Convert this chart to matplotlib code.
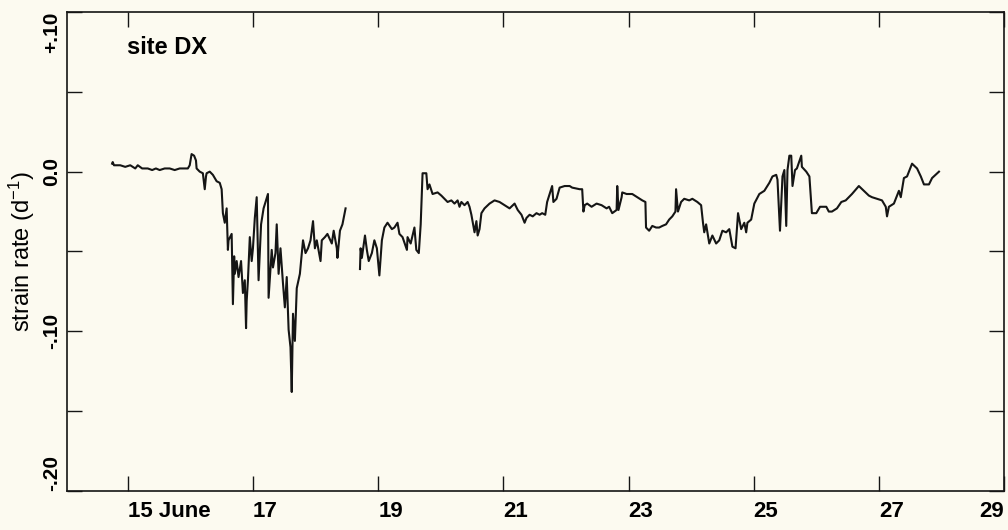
import matplotlib
matplotlib.use('Agg')
import matplotlib.pyplot as plt
import numpy as np

plt.rcParams['font.family'] = ['Liberation Sans', 'DejaVu Sans']
plt.rcParams['mathtext.fontset'] = 'custom'
plt.rcParams['mathtext.rm'] = 'Liberation Sans'
plt.rcParams['mathtext.default'] = 'regular'

# first record, up to 18.5 June
days_a = [14.75, 14.76, 14.78, 14.88, 14.96, 15.04, 15.12, 15.16, 15.23, 15.32,
          15.39, 15.45, 15.51, 15.59, 15.67, 15.75, 15.83, 15.96, 15.99, 16.02,
          16.06, 16.09, 16.10, 16.15, 16.20, 16.23, 16.25, 16.26, 16.31, 16.36,
          16.42, 16.47, 16.50, 16.52, 16.55, 16.58, 16.60, 16.61, 16.66, 16.68,
          16.70, 16.71, 16.74, 16.77, 16.81, 16.84, 16.87, 16.89, 16.90, 16.92,
          16.95, 16.98, 17.00, 17.03, 17.06, 17.09, 17.13, 17.17, 17.24, 17.25,
          17.30, 17.32, 17.36, 17.38, 17.41, 17.44, 17.48, 17.51, 17.54, 17.57,
          17.60, 17.62, 17.64, 17.67, 17.70, 17.75, 17.80, 17.84, 17.88, 17.92,
          17.96, 17.99, 18.02, 18.08, 18.10, 18.15, 18.19, 18.26, 18.29, 18.34,
          18.35, 18.39, 18.43, 18.48]
rate_a = [0.005, 0.006, 0.004, 0.004, 0.003, 0.004, 0.002, 0.004, 0.002, 0.002,
          0.001, 0.002, 0.001, 0.002, 0.002, 0.001, 0.002, 0.002, 0.004, 0.011,
          0.010, 0.007, 0.002, 0.000, -0.001, -0.011, -0.003, -0.001, 0.000, -0.002,
          -0.006, -0.007, -0.011, -0.026, -0.032, -0.023, -0.049, -0.043, -0.039, -0.083,
          -0.053, -0.064, -0.056, -0.066, -0.056, -0.076, -0.068, -0.098, -0.081, -0.068,
          -0.041, -0.056, -0.048, -0.029, -0.016, -0.068, -0.033, -0.023, -0.014, -0.079,
          -0.049, -0.060, -0.051, -0.033, -0.064, -0.048, -0.070, -0.085, -0.066, -0.099,
          -0.110, -0.138, -0.089, -0.106, -0.073, -0.064, -0.043, -0.051, -0.048, -0.043,
          -0.031, -0.048, -0.043, -0.056, -0.043, -0.041, -0.039, -0.045, -0.037, -0.048,
          -0.054, -0.037, -0.033, -0.023]

# second record, from 18.7 June
days_b = [18.71, 18.72, 18.74, 18.79, 18.82, 18.85, 18.90, 18.94, 18.98, 19.02,
          19.06, 19.10, 19.15, 19.22, 19.26, 19.31, 19.34, 19.39, 19.46, 19.47,
          19.52, 19.58, 19.61, 19.65, 19.68, 19.71, 19.77, 19.79, 19.82, 19.87,
          19.95, 20.01, 20.06, 20.11, 20.17, 20.22, 20.27, 20.30, 20.33, 20.38,
          20.43, 20.46, 20.49, 20.54, 20.57, 20.59, 20.62, 20.65, 20.70, 20.78,
          20.86, 20.94, 21.02, 21.10, 21.18, 21.23, 21.29, 21.34, 21.37, 21.42,
          21.47, 21.53, 21.58, 21.62, 21.67, 21.70, 21.78, 21.80, 21.85, 21.90,
          21.98, 22.06, 22.10, 22.22, 22.26, 22.28, 22.30, 22.34, 22.41, 22.49,
          22.57, 22.65, 22.69, 22.74, 22.81, 22.82, 22.84, 22.89, 22.90, 22.97,
          23.06, 23.14, 23.22, 23.27, 23.28, 23.33, 23.38, 23.44, 23.49, 23.54,
          23.60, 23.65, 23.70, 23.75, 23.76, 23.79, 23.84, 23.89, 23.97, 24.02,
          24.10, 24.16, 24.19, 24.21, 24.24, 24.29, 24.34, 24.40, 24.45, 24.50,
          24.56, 24.61, 24.66, 24.71, 24.75, 24.80, 24.85, 24.88, 24.90, 24.96,
          25.01, 25.09, 25.17, 25.25, 25.30, 25.36, 25.38, 25.42, 25.46, 25.49,
          25.52, 25.54, 25.57, 25.60, 25.62, 25.66, 25.69, 25.76, 25.77, 25.84,
          25.89, 25.93, 26.00, 26.06, 26.16, 26.20, 26.25, 26.33, 26.40, 26.47,
          26.57, 26.68, 26.76, 26.84, 26.89, 26.97, 27.05, 27.11, 27.13, 27.16,
          27.24, 27.32, 27.35, 27.40, 27.45, 27.53, 27.61, 27.67, 27.72, 27.80,
          27.85, 27.96]
rate_b = [-0.061, -0.048, -0.054, -0.040, -0.049, -0.056, -0.051, -0.043, -0.048, -0.065,
          -0.043, -0.035, -0.032, -0.036, -0.035, -0.032, -0.039, -0.041, -0.049, -0.041,
          -0.045, -0.035, -0.049, -0.051, -0.033, -0.001, -0.001, -0.011, -0.008, -0.014,
          -0.013, -0.015, -0.017, -0.019, -0.018, -0.020, -0.018, -0.022, -0.019, -0.021,
          -0.019, -0.022, -0.027, -0.038, -0.031, -0.040, -0.036, -0.026, -0.023, -0.020,
          -0.018, -0.019, -0.021, -0.023, -0.020, -0.024, -0.027, -0.032, -0.029, -0.027,
          -0.028, -0.026, -0.027, -0.026, -0.027, -0.019, -0.009, -0.019, -0.017, -0.010,
          -0.009, -0.009, -0.010, -0.011, -0.011, -0.025, -0.021, -0.020, -0.022, -0.020,
          -0.021, -0.023, -0.022, -0.026, -0.024, -0.009, -0.024, -0.016, -0.013, -0.014,
          -0.014, -0.016, -0.018, -0.019, -0.035, -0.037, -0.034, -0.035, -0.035, -0.034,
          -0.033, -0.030, -0.028, -0.025, -0.011, -0.025, -0.019, -0.017, -0.018, -0.017,
          -0.019, -0.021, -0.032, -0.038, -0.033, -0.045, -0.040, -0.045, -0.043, -0.037,
          -0.038, -0.036, -0.047, -0.048, -0.026, -0.036, -0.032, -0.038, -0.032, -0.030,
          -0.020, -0.014, -0.012, -0.007, -0.003, -0.002, -0.005, -0.037, -0.003, 0.001,
          -0.034, 0.001, 0.010, 0.010, -0.009, 0.001, 0.002, 0.010, 0.003, 0.000,
          -0.003, -0.026, -0.026, -0.022, -0.022, -0.025, -0.025, -0.023, -0.019, -0.018,
          -0.014, -0.009, -0.012, -0.015, -0.016, -0.017, -0.018, -0.022, -0.028, -0.022,
          -0.020, -0.012, -0.016, -0.004, -0.003, 0.005, 0.002, -0.003, -0.008, -0.008,
          -0.004, 0.000]

x_ticks = [15, 17, 19, 21, 23, 25, 27, 29]
x_labels = ['15 June', '17', '19', '21', '23', '25', '27', '29']
y_ticks = [-0.20, -0.15, -0.10, -0.05, 0.0, 0.05, 0.10]
y_labels = ['-.20', '', '-.10', '', '0.0', '', '+.10']

paper = '#fcfaf0'
ink = '#151515'
fig = plt.figure(figsize=(10.08, 5.30), dpi=100, facecolor=paper)
ax = fig.add_axes([0.0665, 0.0736, 0.9296, 0.9038], facecolor=paper)

ax.plot(days_a, rate_a, color=ink, lw=1.5)
ax.plot(days_b, rate_b, color=ink, lw=1.5)

ax.set_xlim(14.03, 29.0)
ax.set_ylim(-0.20, 0.10)

ax.set_xticks(x_ticks)
ax.set_xticklabels(x_labels, fontsize=16, fontweight='bold')
ax.set_yticks(y_ticks)
ax.set_yticklabels(y_labels, fontsize=15, fontweight='bold', rotation=90)

ax.tick_params(direction='in', length=11, width=1.0, top=True, right=True,
               color=ink)
ax.tick_params(axis='x', pad=7)
ax.tick_params(axis='y', pad=4)

# labels start at their tick, the last one ends at the frame
for lab in ax.get_xticklabels():
    lab.set_ha('left')
ax.get_xticklabels()[-1].set_ha('right')
for lab, v in zip(ax.get_yticklabels(), y_ticks):
    lab.set_va('top' if v > 0.09 else 'bottom' if v < -0.19 else 'center')

for sp in ax.spines.values():
    sp.set_linewidth(1.2)
    sp.set_color(ink)

ax.set_ylabel(r'strain rate (d$^{-1}$)', fontsize=17)
ax.yaxis.set_label_coords(-0.032, 0.5)

ax.text(0.064, 0.925, 'site DX', transform=ax.transAxes, fontsize=17,
        fontweight='bold', ha='left', va='center')

fig.savefig('out.png', dpi=100, facecolor=paper)
